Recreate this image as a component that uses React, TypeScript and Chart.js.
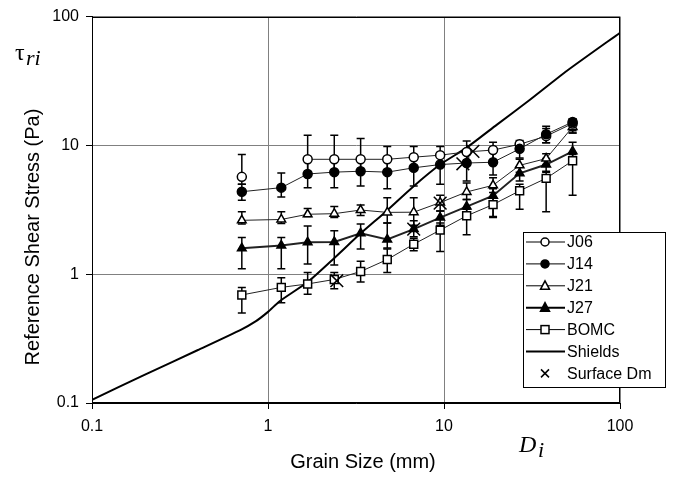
import React, { useEffect, useRef } from "react";
import { Chart, registerables } from "chart.js";

Chart.register(...registerables);

// Representative grain sizes of each size class (mm)
const grainSizes = [0.71, 1.19, 1.68, 2.38, 3.36, 4.76, 6.73, 9.51, 13.45, 19.0, 26.9, 38.05, 53.8];

// Reference shear stress per size class (Pa) with error-bar limits
const j06 = [5.7, null, 7.8, 7.8, 7.8, 7.8, 8.1, 8.4, 8.9, 9.2, 10.2, 11.8, 14.8];
const j06Low = [5.0, null, 6.0, 6.2, 6.3, 6.2, 6.7, 7.1, 7.3, 7.4, 9.4, 10.5, 13.0];
const j06High = [8.5, null, 12.0, 12.0, 11.3, 9.8, 9.8, 9.8, 10.8, 10.6, 10.9, 13.5, 16.0];

const j14 = [4.37, 4.7, 6.0, 6.2, 6.3, 6.2, 6.7, 7.1, 7.3, 7.4, 9.4, 12.2, 15.2];
const j14Low = [3.75, 3.98, 4.7, 4.7, 4.85, 4.6, 4.85, 5.0, 5.3, 5.9, 8.0, 10.5, 12.5];
const j14High = [5.0, 6.1, 7.8, 7.8, 7.8, 7.8, 8.1, 8.4, 8.9, 9.2, 10.2, 14.1, 16.0];

const j21 = [2.62, 2.66, 2.92, 2.95, 3.15, 3.02, 3.03, 3.6, 4.35, 4.9, 7.0, 7.9, 13.9];
const j21Low = [2.45, 2.48, 2.8, 2.75, 2.85, 2.5, 2.4, 3.1, 3.8, 4.3, 6.2, 7.1, 12.5];
const j21High = [3.05, 3.05, 3.24, 3.36, 3.44, 3.93, 3.93, 4.1, 5.1, 5.6, 7.8, 8.6, 15.5];

const j27 = [1.59, 1.67, 1.77, 1.78, 2.08, 1.86, 2.24, 2.75, 3.35, 4.07, 6.07, 7.1, 9.0];
const j27Low = [1.1, 1.1, 1.2, 1.18, 1.57, 1.6, 1.95, 2.4, 2.9, 2.8, 5.3, 6.3, 7.8];
const j27High = [1.93, 1.93, 2.37, 2.17, 2.45, 2.5, 2.6, 3.1, 3.8, 4.6, 6.8, 7.9, 10.6];

const bomc = [0.69, 0.79, 0.84, 0.91, 1.05, 1.3, 1.71, 2.2, 2.84, 3.47, 4.44, 5.55, 7.6];
const bomcLow = [0.5, 0.6, 0.7, 0.77, 0.87, 1.03, 1.52, 1.5, 2.02, 2.75, 3.2, 3.05, 4.1];
const bomcHigh = [0.79, 0.94, 1.03, 1.03, 1.26, 1.57, 1.9, 2.5, 3.2, 3.9, 5.0, 6.2, 8.5];

// Shields critical shear stress curve
const shieldsD = [0.1, 0.2, 0.4, 0.7, 0.85, 1, 1.17, 1.68, 2.4, 3.33, 4.72, 6.7, 9.51, 13.45, 20, 30, 50, 100];
const shieldsTau = [0.106, 0.166, 0.258, 0.37, 0.43, 0.51, 0.62, 0.87, 1.35, 2.05, 3.1, 4.8, 7.1, 9.6, 14.5, 22, 38, 75];

// Surface median size of each sample against its reference stress
const surfaceDmD = [14.6, 12.8, 9.51, 6.73, 2.46];
const surfaceDmTau = [9.0, 7.2, 3.56, 2.24, 0.89];

const axisTicks = [0.1, 1, 10, 100];

const SANS = "'Liberation Sans', Arial, sans-serif";
const SERIF = "'Liberation Serif', 'Times New Roman', serif";

const toPoints = (xs: number[], ys: (number | null)[]) =>
  xs.map((x, i) => ({ x, y: ys[i] as number | null }));

const errorSeries = [
  { low: j06Low, high: j06High },
  { low: j14Low, high: j14High },
  { low: j21Low, high: j21High },
  { low: j27Low, high: j27High },
  { low: bomcLow, high: bomcHigh },
];

const errorBarPlugin = {
  id: "errorBars",
  beforeDatasetsDraw(chart: any) {
    const { ctx, chartArea, scales } = chart;
    const xs = scales.x;
    const ys = scales.y;
    ctx.save();
    ctx.beginPath();
    ctx.rect(chartArea.left, chartArea.top, chartArea.right - chartArea.left, chartArea.bottom - chartArea.top);
    ctx.clip();
    ctx.strokeStyle = "#000";
    ctx.lineWidth = 1.5;
    for (const s of errorSeries) {
      grainSizes.forEach((g, i) => {
        const lo = s.low[i];
        const hi = s.high[i];
        if (lo == null || hi == null) return;
        const px = xs.getPixelForValue(g);
        const p1 = ys.getPixelForValue(lo);
        const p2 = ys.getPixelForValue(hi);
        ctx.beginPath();
        ctx.moveTo(px, p1);
        ctx.lineTo(px, p2);
        ctx.moveTo(px - 4, p1);
        ctx.lineTo(px + 4, p1);
        ctx.moveTo(px - 4, p2);
        ctx.lineTo(px + 4, p2);
        ctx.stroke();
      });
    }
    ctx.restore();
  },
};

const frameAndTextPlugin = {
  id: "frameAndText",
  afterDatasetsDraw(chart: any) {
    const { ctx, chartArea } = chart;
    ctx.save();
    ctx.strokeStyle = "#000";
    ctx.lineWidth = 1;
    ctx.strokeRect(
      Math.round(chartArea.left) + 0.5,
      Math.round(chartArea.top) + 0.5,
      Math.round(chartArea.right - chartArea.left) - 1,
      Math.round(chartArea.bottom - chartArea.top) - 1
    );
    ctx.restore();
  },
  afterDraw(chart: any) {
    const { ctx } = chart;
    ctx.save();
    ctx.fillStyle = "#000";

    // axis titles
    ctx.font = `20px ${SANS}`;
    ctx.textAlign = "center";
    ctx.textBaseline = "middle";
    ctx.fillText("Grain Size (mm)", 363, 462);
    ctx.save();
    ctx.translate(33, 237);
    ctx.rotate(-Math.PI / 2);
    ctx.fillText("Reference Shear Stress (Pa)", 0, 0);
    ctx.restore();

    // symbols
    ctx.textAlign = "left";
    ctx.textBaseline = "alphabetic";
    ctx.font = `24px ${SERIF}`;
    ctx.fillText("τ", 15, 60);
    ctx.font = `italic 22px ${SERIF}`;
    ctx.fillText("ri", 26, 65);
    ctx.font = `italic 24px ${SERIF}`;
    ctx.fillText("D", 519, 452);
    ctx.font = `italic 22px ${SERIF}`;
    ctx.fillText("i", 538, 457);

    // legend
    const bx = 523;
    const by = 232;
    const bw = 142;
    const bh = 155;
    ctx.fillStyle = "#fff";
    ctx.fillRect(bx, by, bw, bh);
    ctx.strokeStyle = "#000";
    ctx.lineWidth = 1;
    ctx.strokeRect(bx + 0.5, by + 0.5, bw, bh);

    const rows = [
      { label: "J06", marker: "circle", fill: "#fff", line: 1 },
      { label: "J14", marker: "circle", fill: "#000", line: 1 },
      { label: "J21", marker: "triangle", fill: "#fff", line: 1 },
      { label: "J27", marker: "triangle", fill: "#000", line: 2 },
      { label: "BOMC", marker: "square", fill: "#fff", line: 1 },
      { label: "Shields", marker: "none", fill: "#000", line: 2 },
      { label: "Surface Dm", marker: "cross", fill: "#000", line: 0 },
    ];
    const mx = 545;
    rows.forEach((r, i) => {
      const cy = 242 + i * 21.9;
      if (r.line > 0) {
        ctx.strokeStyle = "#000";
        ctx.lineWidth = r.line;
        ctx.beginPath();
        ctx.moveTo(526, cy);
        ctx.lineTo(565, cy);
        ctx.stroke();
      }
      ctx.strokeStyle = "#000";
      ctx.lineWidth = 1.5;
      ctx.fillStyle = r.fill;
      if (r.marker === "circle") {
        ctx.beginPath();
        ctx.arc(mx, cy, 4, 0, Math.PI * 2);
        ctx.fill();
        ctx.stroke();
      } else if (r.marker === "triangle") {
        ctx.beginPath();
        ctx.moveTo(mx, cy - 5);
        ctx.lineTo(mx + 4.5, cy + 3.5);
        ctx.lineTo(mx - 4.5, cy + 3.5);
        ctx.closePath();
        ctx.fill();
        ctx.stroke();
      } else if (r.marker === "square") {
        ctx.fillRect(mx - 4, cy - 4, 8, 8);
        ctx.strokeRect(mx - 4, cy - 4, 8, 8);
      } else if (r.marker === "cross") {
        ctx.beginPath();
        ctx.moveTo(mx - 4, cy - 4);
        ctx.lineTo(mx + 4, cy + 4);
        ctx.moveTo(mx + 4, cy - 4);
        ctx.lineTo(mx - 4, cy + 4);
        ctx.stroke();
      }
      ctx.fillStyle = "#000";
      ctx.font = `16px ${SANS}`;
      ctx.textBaseline = "middle";
      ctx.fillText(r.label, 567, cy + 1);
    });
    ctx.restore();
  },
};

const seriesLine = (
  label: string,
  values: (number | null)[],
  pointStyle: string,
  fill: string,
  radius: number,
  lineWidth: number,
  order: number
) => ({
  label,
  data: toPoints(grainSizes, values),
  showLine: true,
  spanGaps: false,
  borderColor: "#222",
  borderWidth: lineWidth,
  pointStyle,
  pointRadius: radius,
  pointBackgroundColor: fill,
  pointBorderColor: "#000",
  pointBorderWidth: 1.5,
  order,
});

export default function App() {
  const canvasRef = useRef<HTMLCanvasElement | null>(null);

  useEffect(() => {
    if (!canvasRef.current) return;
    const scaleCommon = (fitSize: (s: any) => void) => ({
      type: "logarithmic" as const,
      min: 0.1,
      max: 100,
      afterBuildTicks: (s: any) => {
        s.ticks = axisTicks.map((v) => ({ value: v }));
      },
      afterFit: fitSize,
      grid: { color: "#808080", lineWidth: 1, tickColor: "#000", tickLength: 6, drawTicks: true },
      border: { color: "#000", width: 1 },
    });

    const chart = new Chart(canvasRef.current, {
      type: "scatter",
      data: {
        datasets: [
          {
            label: "Surface Dm",
            data: toPoints(surfaceDmD, surfaceDmTau),
            showLine: false,
            pointStyle: "crossRot",
            pointRadius: 9,
            pointBorderColor: "#000",
            pointBorderWidth: 1.5,
            order: 0,
          } as any,
          seriesLine("J06", j06, "circle", "#fff", 4.5, 1, 2),
          seriesLine("J14", j14, "circle", "#000", 4.5, 1, 1),
          seriesLine("J21", j21, "triangle", "#fff", 5, 1, 3),
          seriesLine("J27", j27, "triangle", "#000", 5, 2, 4),
          seriesLine("BOMC", bomc, "rect", "#fff", 5.6, 1, 5),
          {
            label: "Shields",
            data: toPoints(shieldsD, shieldsTau),
            showLine: true,
            borderColor: "#000",
            borderWidth: 2,
            pointRadius: 0,
            tension: 0.2,
            order: 10,
          } as any,
        ],
      },
      options: {
        responsive: false,
        animation: false,
        layout: { padding: { left: 0, top: 15, right: 53, bottom: 0 } },
        plugins: {
          legend: { display: false },
          tooltip: { enabled: false },
        },
        scales: {
          x: {
            ...scaleCommon((s: any) => {
              s.height = 75;
            }),
            position: "bottom",
            ticks: {
              autoSkip: false,
              maxRotation: 0,
              padding: 8,
              color: "#000",
              font: { family: SANS, size: 16 },
              callback: (v: any) => String(v),
            },
          },
          y: {
            ...scaleCommon((s: any) => {
              s.width = 92;
            }),
            position: "left",
            ticks: {
              autoSkip: false,
              padding: 7,
              color: "#000",
              font: { family: SANS, size: 16 },
              callback: (v: any) => String(v),
            },
          },
        },
      } as any,
      plugins: [errorBarPlugin, frameAndTextPlugin],
    });
    return () => chart.destroy();
  }, []);

  return (
    <div style={{ position: "absolute", left: 0, top: 0, width: 673, height: 478, background: "#fff" }}>
      <canvas ref={canvasRef} width={673} height={478} style={{ display: "block" }} />
    </div>
  );
}
